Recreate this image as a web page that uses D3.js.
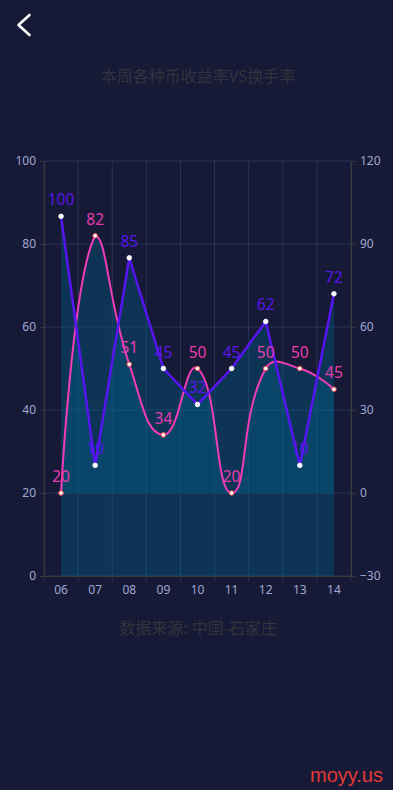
<!DOCTYPE html>
<html><head><meta charset="utf-8">
<script src="https://cdn.jsdelivr.net/npm/d3@7"></script>
<style>html,body{margin:0;padding:0;background:#161a37;}svg{display:block}</style>
</head><body>
<svg id="c" width="393" height="790"></svg>
<script>
// ---- data ----
const categories = ["06","07","08","09","10","11","12","13","14"];
const turnoverValues = [20, 82, 51, 34, 50, 20, 50, 50, 45];   // pink, left axis
const yieldValues = [100, 10, 85, 45, 32, 45, 62, 10, 72];     // purple, right axis
const leftTicks = [0, 20, 40, 60, 80, 100];
const rightTicks = [-30, 0, 30, 60, 90, 120];
const titleText = "本周各种币收益率VS换手率";
const sourceText = "数据来源: 中国-石家庄";
const brandText = "moyy.us";

// ---- layout ----
const svg = d3.select("#c");
const L = 44, R = 351, T = 161, B = 576;
const FONT = "'Noto Sans','Noto Sans CJK SC',sans-serif";
const axisColor = "#3b3a38", gridColor = "#2b325d", labelColor = "#a0a7d2";
const blue = "#5714f2", pink = "#f23cb8";

const x = d3.scaleBand().domain(categories).range([L, R]);
const cx = c => x(c) + x.bandwidth() / 2;
const yL = d3.scaleLinear().domain([0, 100]).range([B, T]);
const yR = d3.scaleLinear().domain([-30, 120]).range([B, T]);

// back chevron
svg.append("path").attr("d", "M29.5,15 L18.5,25 L29.5,35")
  .attr("fill", "none").attr("stroke", "#fff").attr("stroke-width", 2.6)
  .attr("stroke-linecap", "round").attr("stroke-linejoin", "round");

// title
svg.append("text").attr("x", 198).attr("y", 82).attr("text-anchor", "middle")
  .attr("font-family", FONT).attr("font-size", 16).attr("fill", "#33333d").text(titleText);

// grid
const g = svg.append("g");
g.selectAll(".hg").data(leftTicks).join("line")
  .attr("x1", L).attr("x2", R).attr("y1", d => yL(d)).attr("y2", d => yL(d))
  .attr("stroke", gridColor).attr("stroke-width", 1);
const bounds = categories.map(c => x(c)).concat([R]);
g.selectAll(".vg").data(bounds).join("line")
  .attr("x1", d => d).attr("x2", d => d).attr("y1", T).attr("y2", B)
  .attr("stroke", gridColor).attr("stroke-width", 1);

// ECharts-style smooth path
function smoothPath(pts, smooth) {
  const xs = pts.map(p => p[0]), ys = pts.map(p => p[1]);
  const mn = [d3.min(xs), d3.min(ys)], mx = [d3.max(xs), d3.max(ys)];
  const clamp = p => [Math.max(mn[0], Math.min(mx[0], p[0])), Math.max(mn[1], Math.min(mx[1], p[1]))];
  const path = d3.path();
  path.moveTo(pts[0][0], pts[0][1]);
  let cp0 = pts[0].slice();
  for (let i = 1; i < pts.length; i++) {
    const p = pts[i], prev = pts[i - 1], next = pts[i + 1];
    let cp1, v = [0, 0], ratio = 0.5;
    if (!next) { cp1 = p.slice(); }
    else {
      v = [next[0] - prev[0], next[1] - prev[1]];
      const l0 = Math.hypot(p[0] - prev[0], p[1] - prev[1]);
      const l1 = Math.hypot(next[0] - p[0], next[1] - p[1]);
      ratio = l1 / (l0 + l1);
      cp1 = [p[0] - v[0] * smooth * (1 - ratio), p[1] - v[1] * smooth * (1 - ratio)];
    }
    const a = clamp(cp0), b = clamp(cp1);
    path.bezierCurveTo(a[0], a[1], b[0], b[1], p[0], p[1]);
    cp0 = [p[0] + v[0] * smooth * ratio, p[1] + v[1] * smooth * ratio];
  }
  return path.toString();
}

const pinkPts = categories.map((c, i) => [cx(c), yL(turnoverValues[i])]);
const bluePts = categories.map((c, i) => [cx(c), yR(yieldValues[i])]);
const pinkLine = smoothPath(pinkPts, 0.5);

// areas
const areaFill = "#006790", areaOp = 0.35;
svg.append("path")
  .attr("d", pinkLine + `L${pinkPts[pinkPts.length - 1][0]},${yL(0)}L${pinkPts[0][0]},${yL(0)}Z`)
  .attr("fill", areaFill).attr("fill-opacity", areaOp);
const blueArea = d3.area().x(d => d[0]).y0(yR(0)).y1(d => d[1]);
svg.append("path").attr("d", blueArea(bluePts)).attr("fill", areaFill).attr("fill-opacity", areaOp);

// axes
function styleAxis(sel) {
  sel.selectAll(".domain").attr("stroke", axisColor);
  sel.selectAll(".tick line").attr("stroke", axisColor);
  sel.selectAll("text").attr("fill", labelColor).attr("font-size", 12).attr("font-family", FONT);
}
svg.append("g").attr("transform", `translate(${L},0)`)
  .call(d3.axisLeft(yL).tickValues(leftTicks).tickSizeInner(4).tickSizeOuter(0).tickPadding(4))
  .call(styleAxis);
svg.append("g").attr("transform", `translate(${R},0)`)
  .call(d3.axisRight(yR).tickValues(rightTicks).tickSizeInner(4).tickSizeOuter(0).tickPadding(5))
  .call(styleAxis);
const xg = svg.append("g").attr("transform", `translate(0,${B})`)
  .call(d3.axisBottom(x).tickSize(0).tickPadding(9)).call(styleAxis);
xg.selectAll(".tick-b").data(bounds).join("line")
  .attr("x1", d => d).attr("x2", d => d).attr("y1", 0).attr("y2", 5).attr("stroke", axisColor);

// lines
svg.append("path").attr("d", pinkLine).attr("fill", "none").attr("stroke", pink).attr("stroke-width", 2);
svg.append("path").attr("d", d3.line()(bluePts)).attr("fill", "none").attr("stroke", blue).attr("stroke-width", 2.5);

// symbols
svg.selectAll(".ps").data(pinkPts).join("circle")
  .attr("cx", d => d[0]).attr("cy", d => d[1]).attr("r", 2.3)
  .attr("fill", "#fff").attr("stroke", "#f24a4a").attr("stroke-width", 1);
svg.selectAll(".bs").data(bluePts).join("circle")
  .attr("cx", d => d[0]).attr("cy", d => d[1]).attr("r", 2.3)
  .attr("fill", "#fff").attr("stroke", "#f0f0ff").attr("stroke-width", 1);

// value labels
svg.selectAll(".pl").data(pinkPts).join("text")
  .attr("x", d => d[0]).attr("y", d => d[1] - 11).attr("text-anchor", "middle")
  .attr("font-family", FONT).attr("font-size", 15.5).attr("fill", "#e83cb2")
  .text((d, i) => turnoverValues[i]);
svg.selectAll(".bl").data(bluePts).join("text")
  .attr("x", d => d[0]).attr("y", d => d[1] - 11).attr("text-anchor", "middle")
  .attr("font-family", FONT).attr("font-size", 15.5).attr("fill", "#5a14ea")
  .text((d, i) => yieldValues[i]);

// source
svg.append("text").attr("x", 198).attr("y", 634).attr("text-anchor", "middle")
  .attr("font-family", FONT).attr("font-size", 16).attr("fill", "#33333a").text(sourceText);

// brand
svg.append("text").attr("x", 383).attr("y", 782).attr("text-anchor", "end")
  .attr("font-family", "'Liberation Sans',Arial,sans-serif").attr("font-size", 20).attr("fill", "#e33a35").text(brandText);
</script>
</body></html>
